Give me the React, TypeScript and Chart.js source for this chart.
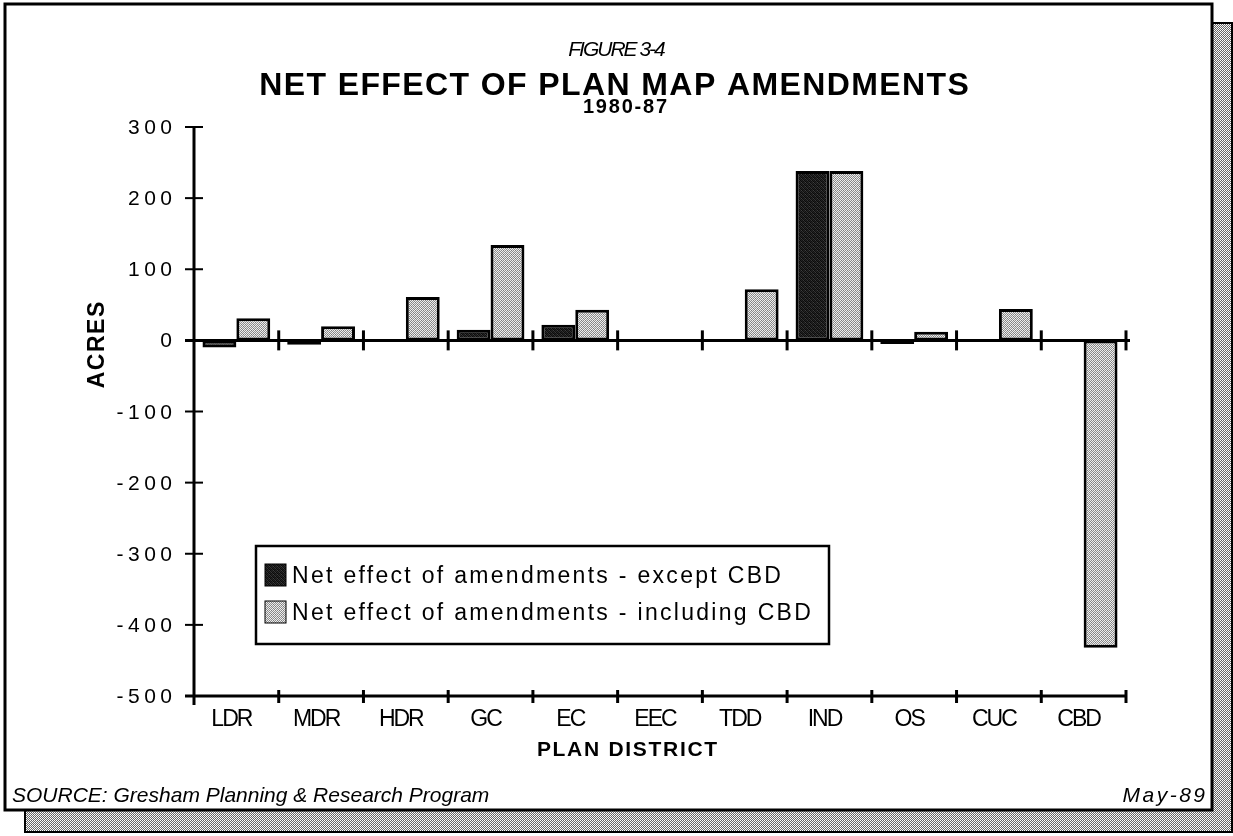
import React, { useEffect, useRef } from 'react';
import { Chart, registerables } from 'chart.js';

Chart.register(...registerables);

// Plan districts along the horizontal axis
const districts = ['LDR', 'MDR', 'HDR', 'GC', 'EC', 'EEC', 'TDD', 'IND', 'OS', 'CUC', 'CBD'];

// Net change in acres, 1980-87
const exceptCbd: (number | null)[] = [-10, -6, null, 15, 22, null, null, 238, -5, null, null];
const includingCbd: (number | null)[] = [31, 20, 61, 134, 43, null, 72, 238, 12, 44, -432];

const seriesNames = [
  'Net effect of amendments - except CBD',
  'Net effect of amendments - including CBD',
];

const yTickValues = [300, 200, 100, 0, -100, -200, -300, -400, -500];

const figureNumber = 'FIGURE 3-4';
const chartTitle = 'NET EFFECT OF PLAN MAP AMENDMENTS';
const periodLabel = '1980-87';
const yAxisTitle = 'ACRES';
const xAxisTitle = 'PLAN DISTRICT';
const sourceNote = 'SOURCE: Gresham Planning & Research Program';
const dateNote = 'May-89';

const W = 1233;
const H = 836;
const FONT = '"Liberation Sans", Arial, Helvetica, sans-serif';

function makePattern(grid: string[][]): CanvasPattern {
  const c = document.createElement('canvas');
  c.width = grid[0].length;
  c.height = grid.length;
  const g = c.getContext('2d')!;
  grid.forEach((row, y) =>
    row.forEach((col, x) => {
      g.fillStyle = col;
      g.fillRect(x, y, 1, 1);
    })
  );
  return g.createPattern(c, 'repeat')!;
}

function drawText(
  ctx: CanvasRenderingContext2D,
  str: string,
  x: number,
  y: number,
  font: string,
  align: CanvasTextAlign,
  spacing = 0
) {
  ctx.save();
  ctx.font = font;
  (ctx as any).letterSpacing = spacing + 'px';
  ctx.textAlign = align;
  ctx.textBaseline = 'alphabetic';
  ctx.fillStyle = '#000';
  let dx = 0;
  if (align === 'right') dx = spacing;
  else if (align === 'center') dx = spacing / 2;
  ctx.fillText(str, x + dx, y);
  ctx.restore();
}

function line(ctx: CanvasRenderingContext2D, x1: number, y1: number, x2: number, y2: number, w: number) {
  ctx.beginPath();
  ctx.lineWidth = w;
  ctx.strokeStyle = '#000';
  ctx.moveTo(x1, y1);
  ctx.lineTo(x2, y2);
  ctx.stroke();
}

export default function App() {
  const canvasRef = useRef<HTMLCanvasElement | null>(null);

  useEffect(() => {
    const canvas = canvasRef.current;
    if (!canvas) return;

    const lightFill = makePattern([
      ['#f2f2f2', '#7e7e7e', '#e6e6e6', '#8e8e8e'],
      ['#969696', '#ececec', '#848484', '#f0f0f0'],
      ['#e8e8e8', '#8a8a8a', '#f4f4f4', '#7c7c7c'],
      ['#8e8e8e', '#f0f0f0', '#989898', '#e4e4e4'],
    ]);
    const darkFill = makePattern([
      ['#0a0a0a', '#242424', '#121212', '#383838'],
      ['#2c2c2c', '#080808', '#1e1e1e', '#0e0e0e'],
      ['#161616', '#404040', '#0a0a0a', '#222222'],
      ['#262626', '#0e0e0e', '#323232', '#101010'],
    ]);
    const shadowFill = makePattern([
      ['#ffffff', '#5e5e5e'],
      ['#6e6e6e', '#f0f0f0'],
    ]);

    const framePlugin = {
      id: 'frame',
      beforeDraw(chart: Chart) {
        const ctx = chart.ctx;
        ctx.save();
        ctx.fillStyle = '#fff';
        ctx.fillRect(0, 0, W, H);
        // drop shadow
        ctx.fillStyle = shadowFill;
        ctx.fillRect(25, 23, 1207, 809);
        ctx.lineWidth = 2;
        ctx.strokeStyle = '#000';
        ctx.strokeRect(25, 23, 1207, 809);
        // panel
        ctx.fillStyle = '#fff';
        ctx.fillRect(5, 4, 1207, 806);
        ctx.lineWidth = 3;
        ctx.strokeRect(5, 4, 1207, 806);
        ctx.restore();
      },
      afterDatasetsDraw(chart: Chart) {
        const ctx = chart.ctx;
        const area = chart.chartArea;
        const xs = chart.scales.x;
        const ys = chart.scales.y;
        const y0 = ys.getPixelForValue(0);
        const centers = districts.map((_, i) => xs.getPixelForValue(i));
        const bounds = [area.left];
        for (let i = 1; i < centers.length; i++) bounds.push((centers[i - 1] + centers[i]) / 2);
        bounds.push(area.right);

        ctx.save();
        ctx.lineCap = 'butt';

        // vertical axis with crossing ticks
        line(ctx, area.left, area.top - 1, area.left, area.bottom + 9, 3);
        yTickValues.forEach((v) => {
          const py = ys.getPixelForValue(v);
          if (v === 0 || v === yTickValues[yTickValues.length - 1]) return;
          line(ctx, area.left - 9, py, area.left + 9, py, 2);
        });

        // zero line with category dividers
        line(ctx, area.left - 9, y0, area.right + 4, y0, 3);
        bounds.slice(1).forEach((bx) => line(ctx, bx, y0 - 10, bx, y0 + 10, 3));

        // bottom category axis
        line(ctx, area.left - 9, area.bottom, area.right, area.bottom, 3);
        bounds.slice(1).forEach((bx) => line(ctx, bx, area.bottom - 6, bx, area.bottom + 7, 3));

        // value labels
        yTickValues.forEach((v) => {
          const py = ys.getPixelForValue(v);
          drawText(ctx, String(v), area.left - 22, py + 7, `21px ${FONT}`, 'right', 4.5);
        });

        // district labels
        districts.forEach((d, i) => {
          drawText(ctx, d, centers[i] - 4, area.bottom + 30, `23px ${FONT}`, 'center', -2);
        });

        // axis titles
        drawText(ctx, xAxisTitle, 627, 756, `bold 21px ${FONT}`, 'center', 1.7);
        ctx.save();
        ctx.translate(104, 345);
        ctx.rotate(-Math.PI / 2);
        drawText(ctx, yAxisTitle, 0, 0, `bold 23px ${FONT}`, 'center', 1.5);
        ctx.restore();

        // headings
        drawText(ctx, figureNumber, 617, 56, `italic 21px ${FONT}`, 'center', -2);
        drawText(ctx, chartTitle, 614, 95, `bold 32px ${FONT}`, 'center', 1.4);
        drawText(ctx, periodLabel, 625, 113, `bold 20px ${FONT}`, 'center', 1.8);

        // footer notes
        drawText(ctx, sourceNote, 12, 802, `italic 21px ${FONT}`, 'left', 0);
        drawText(ctx, dateNote, 1205, 802, `italic 21px ${FONT}`, 'right', 2.5);

        // legend box
        const lx = 256, ly = 546, lw = 573, lh = 98;
        ctx.fillStyle = '#fff';
        ctx.fillRect(lx, ly, lw, lh);
        ctx.lineWidth = 2.5;
        ctx.strokeStyle = '#000';
        ctx.strokeRect(lx, ly, lw, lh);
        chart.data.datasets.forEach((ds, i) => {
          const sy = 564 + i * 37;
          ctx.fillStyle = ds.backgroundColor as any;
          ctx.fillRect(265, sy, 21, 22);
          ctx.lineWidth = 1;
          ctx.strokeRect(265, sy, 21, 22);
          drawText(ctx, ds.label as string, 292, sy + 19, `23px ${FONT}`, 'left', 2.3);
        });

        ctx.restore();
      },
    };

    const chart = new Chart(canvas, {
      type: 'bar',
      data: {
        labels: districts,
        datasets: [
          {
            label: seriesNames[0],
            data: exceptCbd,
            backgroundColor: darkFill,
            borderColor: '#000',
            borderWidth: 3,
            borderSkipped: false,
            categoryPercentage: 0.8,
            barPercentage: 1,
          },
          {
            label: seriesNames[1],
            data: includingCbd,
            backgroundColor: lightFill,
            borderColor: '#000',
            borderWidth: 3,
            borderSkipped: false,
            categoryPercentage: 0.8,
            barPercentage: 1,
          },
        ],
      },
      options: {
        responsive: false,
        animation: false,
        events: [],
        layout: { padding: { left: 194, top: 127, right: 107, bottom: 140 } },
        plugins: {
          legend: { display: false },
          tooltip: { enabled: false },
          title: { display: false },
        },
        scales: {
          x: { display: false },
          y: { display: false, min: -500, max: 300 },
        },
      },
      plugins: [framePlugin],
    });

    return () => chart.destroy();
  }, []);

  return (
    <div style={{ position: 'fixed', left: 0, top: 0, width: W, height: H, background: '#fff' }}>
      <canvas ref={canvasRef} width={W} height={H} style={{ display: 'block' }} />
    </div>
  );
}
